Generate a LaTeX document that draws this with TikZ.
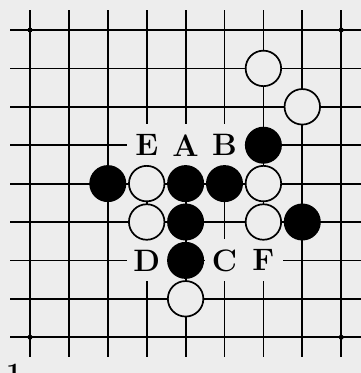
\documentclass[tikz,border=0pt]{standalone}
\usepackage{fontspec}
\usepackage{tikz}
\definecolor{paper}{gray}{0.93}

\begin{document}
\begin{tikzpicture}[x=1pt, y=-1pt,
	gridline/.style = {line width=1.8pt, color=black},
	bstone/.style = {circle, fill=black, inner sep=0pt, minimum size=37pt},
	wstone/.style = {circle, draw=black, line width=1.7pt, fill=paper, inner sep=0pt, minimum size=35.5pt},
	star/.style = {circle, fill=black, inner sep=0pt, minimum size=5pt},
	lab/.style = {fill=paper, inner sep=0pt, minimum width=40pt, minimum height=42pt, font=\fontsize{31}{33}\selectfont\bfseries}
]

% Paper and frame of the picture
\useasboundingbox (0,0) rectangle (361,373);
\clip (0,0) rectangle (361,373);
\fill[paper] (0,0) rectangle (361,373);

% Board lines: nine columns and nine rows
\foreach \i in {0,...,8} {
  \draw[gridline] ({30+38.9*\i},10) -- ({30+38.9*\i},357);
  \draw[gridline] (10,{30+38.4*\i}) -- (361,{30+38.4*\i});
}

% Star points at the four corners of the board section
\foreach \c/\r in {0/0, 8/0, 0/8, 8/8}
  \node[star] (star\c\r) at ({30+38.9*\c},{30+38.4*\r}) {};

% Letters marking candidate points (boxes blank the lines round them)
\foreach \c/\r/\L in {3/3/E, 4/3/A, 5/3/B, 3/6/D, 5/6/C, 6/6/F}
  \node[lab] (pt\L) at ({30+38.9*\c},{30+38.4*\r}) {\L};

% Black stones
\foreach \c/\r in {6/3, 2/4, 4/4, 5/4, 4/5, 7/5, 4/6}
  \node[bstone] (b\c\r) at ({30+38.9*\c},{30+38.4*\r}) {};

% White stones
\foreach \c/\r in {6/1, 7/2, 3/4, 6/4, 3/5, 6/5, 4/7}
  \node[wstone] (w\c\r) at ({30+38.9*\c},{30+38.4*\r}) {};

% Diagram number, cut off by the lower edge
\node[anchor=north west, inner sep=0pt, font=\fontsize{28}{30}\selectfont\bfseries] (num) at (6,364) {1};

\end{tikzpicture}
\end{document}
